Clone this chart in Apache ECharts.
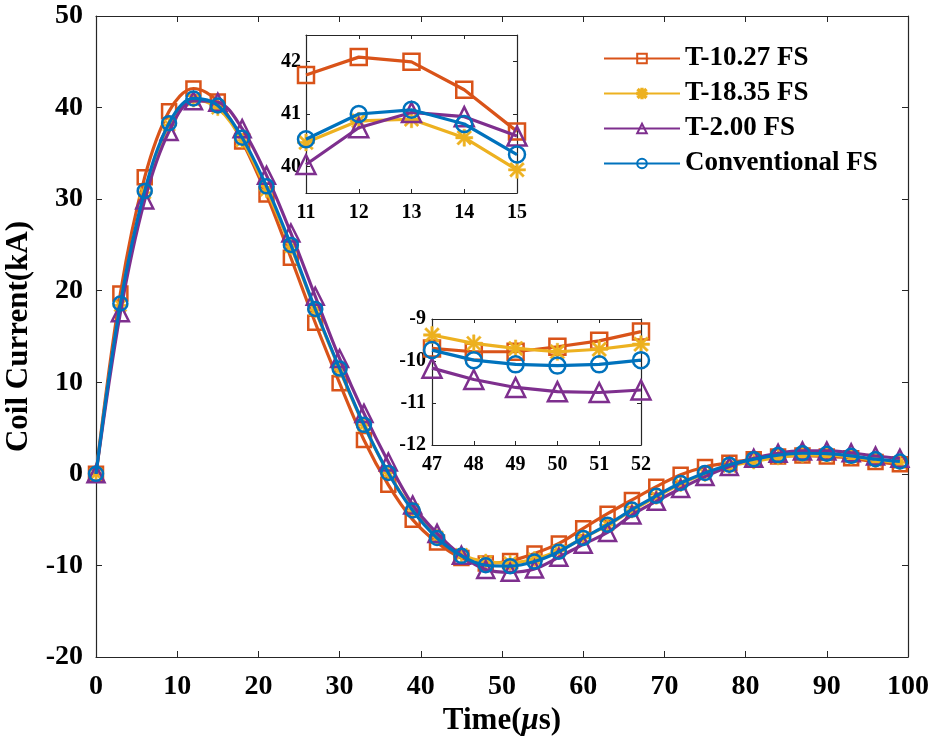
<!DOCTYPE html>
<html><head><meta charset="utf-8">
<script src="https://cdn.jsdelivr.net/npm/echarts@6/dist/echarts.min.js"></script>
<style>html,body{margin:0;padding:0;background:#fff}#c{width:936px;height:751px}</style>
</head><body><div id="c"></div>
<script>
// ---- data ----
const seriesNames = ['T-10.27 FS', 'T-18.35 FS', 'T-2.00 FS', 'Conventional FS'];
const timeMain = [0,3,6,9,12,15,18,21,24,27,30,33,36,39,42,45,48,51,54,57,60,63,66,69,72,75,78,81,84,87,90,93,96,99];
const mainT1027 = [0,19.7,32.4,39.6,42.08,40.67,36.3,30.5,23.6,16.5,9.9,3.7,-1.2,-5.0,-7.5,-9.2,-9.78,-9.52,-8.7,-7.6,-5.95,-4.35,-2.85,-1.4,-0.1,0.75,1.2,1.6,1.9,2.0,1.9,1.7,1.3,1.05];
const mainT1835 = [0,18.4,30.7,38.1,40.87,39.94,36.4,31.0,24.8,17.9,11.4,5.3,0.1,-3.9,-6.9,-8.8,-9.58,-9.72,-9.3,-8.4,-7.0,-5.6,-4.0,-2.5,-1.1,0.0,0.85,1.35,1.8,2.05,2.05,1.85,1.5,1.25];
const mainT200  = [0,17.6,29.9,37.4,40.74,40.58,37.7,32.6,26.3,19.4,12.6,6.6,1.3,-3.4,-6.5,-8.9,-10.44,-10.75,-10.4,-9.1,-7.7,-6.4,-4.5,-3.0,-1.6,-0.3,0.8,1.7,2.25,2.5,2.5,2.3,1.95,1.7];
const mainConv  = [0,18.6,30.9,38.3,41.0,40.23,36.7,31.4,25.0,18.0,11.5,5.35,0.1,-4.0,-7.0,-8.95,-9.98,-10.08,-9.58,-8.5,-7.0,-5.55,-3.9,-2.4,-1.0,0.1,1.0,1.6,2.05,2.25,2.2,1.97,1.6,1.35];

const timeInsetA = [11,12,13,14,15];
const insetA_T1027 = [41.74,42.08,41.99,41.46,40.67];
const insetA_T1835 = [40.46,40.87,40.90,40.55,39.94];
const insetA_T200  = [40.04,40.74,41.03,40.95,40.58];
const insetA_Conv  = [40.52,41.00,41.08,40.81,40.23];

const timeInsetB = [47,48,49,50,51,52];
const insetB_T1027 = [-9.70,-9.78,-9.78,-9.66,-9.52,-9.30];
const insetB_T1835 = [-9.38,-9.58,-9.70,-9.78,-9.72,-9.60];
const insetB_T200  = [-10.17,-10.44,-10.63,-10.73,-10.75,-10.69];
const insetB_Conv  = [-9.74,-9.98,-10.08,-10.11,-10.08,-9.98];

const insetATicksY = [40,41,42];

// ---- styles ----
const colors = ['#D95319', '#EDB120', '#7E2F8E', '#0072BD'];
const asterisk = 'path://M8.6 0L11.4 0L11.4 20L8.6 20Z M0 8.6L20 8.6L20 11.4L0 11.4Z M3.2 1.2L18.8 16.8L16.8 18.8L1.2 3.2Z M16.8 1.2L18.8 3.2L3.2 18.8L1.2 16.8Z';
const symbols = ['rect', asterisk, 'triangle', 'circle'];
const FONT = '"Liberation Serif", "Times New Roman", serif';
const AX = '#262626';

function zip(xs, ys) { return xs.map((x, i) => [x, ys[i]]); }

function mkSeries(idx, data, xi, yi, size, lw, smooth) {
  const c = colors[idx];
  const isStar = idx === 1;
  return {
    name: seriesNames[idx], type: 'line', xAxisIndex: xi, yAxisIndex: yi,
    data: data, smooth: smooth, symbol: symbols[idx],
    symbolSize: isStar ? size + 1 : (idx === 2 ? size + 3 : size),
    showAllSymbol: true, clip: false, color: c,
    lineStyle: { color: c, width: lw },
    itemStyle: isStar ? { color: c, borderColor: c, borderWidth: 0.5 }
                      : { color: 'rgba(255,255,255,0)', borderColor: c, borderWidth: 2.5 },
    emphasis: { disabled: true }, animation: false, z: 2 + idx
  };
}

function boxAxes(gridIndex, min, max, interval, opts) {
  opts = opts || {};
  const lbl = { show: true, fontFamily: FONT, fontWeight: 'bold', color: '#000', fontSize: opts.fs, margin: opts.margin };
  const tick = { show: true, inside: true, length: opts.tl || 6, lineStyle: { color: AX, width: 1 } };
  if (opts.custom) { lbl.customValues = opts.custom; tick.customValues = opts.custom; }
  const base = { type: 'value', gridIndex, min, max, interval, splitLine: { show: false },
    axisLine: { show: true, onZero: false, lineStyle: { color: AX, width: 1.2 } } };
  return [
    Object.assign({}, base, { position: opts.pos0, axisLabel: lbl, axisTick: tick }, opts.extra || {}),
    Object.assign({}, base, { position: opts.pos1, axisLabel: { show: false }, axisTick: Object.assign({}, tick) })
  ];
}

const xMain = boxAxes(0, 0, 100, 10, { pos0: 'bottom', pos1: 'top', fs: 28, margin: 16, extra: {
  name: '{a|Time(}{b|μ}{a|s)}', nameLocation: 'middle', nameGap: 46,
  nameTextStyle: { rich: {
    a: { fontFamily: FONT, fontWeight: 'bold', fontSize: 31, color: '#000' },
    b: { fontFamily: FONT, fontWeight: 'bold', fontStyle: 'italic', fontSize: 31, color: '#000' } } } } });
const yMain = boxAxes(0, -20, 50, 10, { pos0: 'left', pos1: 'right', fs: 28, margin: 13, extra: {
  name: 'Coil Current(kA)', nameLocation: 'middle', nameGap: 56,
  nameTextStyle: { fontFamily: FONT, fontWeight: 'bold', fontSize: 31, color: '#000' } } });
const xA = boxAxes(1, 11, 15, 1, { pos0: 'bottom', pos1: 'top', fs: 20, margin: 10, tl: 4 });
const yA = boxAxes(1, 39.5, 42.5, 0.5, { pos0: 'left', pos1: 'right', fs: 20, margin: 5, tl: 4, custom: insetATicksY });
const xB = boxAxes(2, 47, 52, 1, { pos0: 'bottom', pos1: 'top', fs: 20, margin: 10, tl: 4 });
const yB = boxAxes(2, -12, -9, 1, { pos0: 'left', pos1: 'right', fs: 20, margin: 6, tl: 4 });

const mainSets = [mainT1027, mainT1835, mainT200, mainConv];
const aSets = [insetA_T1027, insetA_T1835, insetA_T200, insetA_Conv];
const bSets = [insetB_T1027, insetB_T1835, insetB_T200, insetB_Conv];

const series = [];
mainSets.forEach((s, i) => series.push(mkSeries(i, zip(timeMain, s), 0, 0, 14, 3.2, 0.35)));
aSets.forEach((s, i) => series.push(mkSeries(i, zip(timeInsetA, s), 2, 2, 16, 3.2, false)));
bSets.forEach((s, i) => series.push(mkSeries(i, zip(timeInsetB, s), 4, 4, 16, 3.2, false)));

const option = {
  backgroundColor: '#fff',
  animation: false,
  grid: [
    { left: 96, top: 16, right: 28, bottom: 94, outerBoundsMode: 'none', containLabel: false },
    { left: 306, top: 35, width: 211, height: 158, show: true, backgroundColor: '#fff', borderWidth: 0, outerBoundsMode: 'none', containLabel: false },
    { left: 432, top: 319, width: 209, height: 126, show: true, backgroundColor: '#fff', borderWidth: 0, outerBoundsMode: 'none', containLabel: false }
  ],
  xAxis: [].concat(xMain, xA, xB),
  yAxis: [].concat(yMain, yA, yB),
  legend: {
    data: seriesNames, orient: 'vertical', left: 598, top: 40,
    itemWidth: 76, itemHeight: 12, itemGap: 8,
    textStyle: { fontFamily: FONT, fontWeight: 'bold', fontSize: 27, color: '#000' },
    selectedMode: false
  },
  series: series
};
const chart = echarts.init(document.getElementById('c'));
chart.setOption(option);
</script></body></html>
